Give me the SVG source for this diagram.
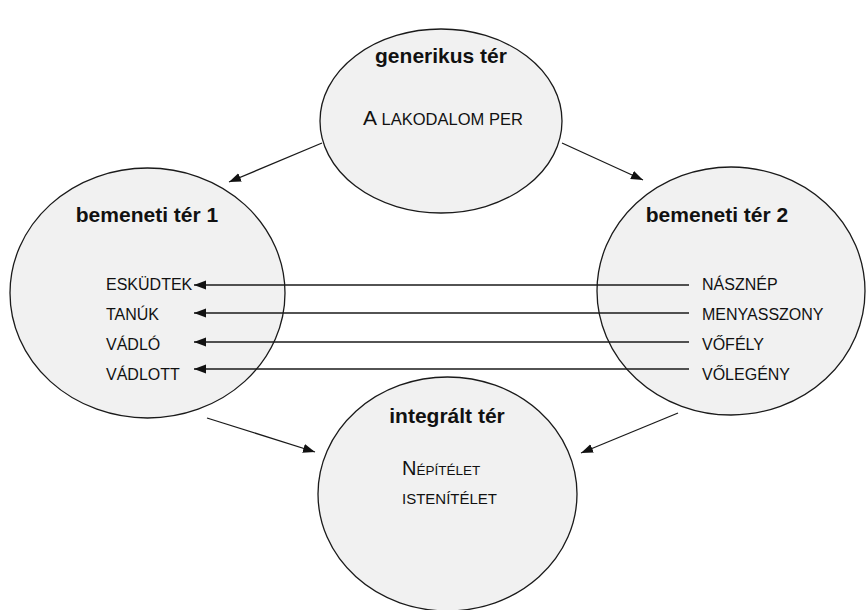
<svg xmlns="http://www.w3.org/2000/svg" width="866" height="610" viewBox="0 0 866 610">
<style>
.node{fill:#f1f1f1;stroke:#1a1a1a;stroke-width:1.3}
.title{font-family:"Liberation Sans",Arial,sans-serif;font-weight:bold;font-size:21px;fill:#111;text-anchor:middle}
.item{font-family:"Liberation Sans",Arial,sans-serif;font-size:16px;fill:#111}
.sc{font-family:"Liberation Sans",Arial,sans-serif;fill:#111}
.conn{stroke:#1a1a1a;stroke-width:1.3;fill:none;marker-end:url(#arr)}
</style>
<defs>
<marker id="arr" markerUnits="userSpaceOnUse" markerWidth="13" markerHeight="10" refX="12" refY="4.5" orient="auto">
<path d="M0,0 L12,4.5 L0,9 z" fill="#111"/>
</marker>
</defs>
<rect width="866" height="610" fill="#fff"/>
<g id="generikus">
<ellipse class="node" cx="441" cy="121" rx="121" ry="92"/>
<text class="title" x="441" y="63">generikus tér</text>
<text class="sc" x="363" y="125"><tspan font-size="21">A</tspan><tspan font-size="16.5"> LAKODALOM PER</tspan></text>
</g>
<g id="bemeneti1">
<ellipse class="node" cx="147.5" cy="293" rx="137.5" ry="125"/>
<text class="title" x="147" y="222" font-size="22">bemeneti tér 1</text>
<text class="item" x="106" y="290">ESKÜDTEK</text>
<text class="item" x="106" y="320">TANÚK</text>
<text class="item" x="106" y="350">VÁDLÓ</text>
<text class="item" x="106" y="380">VÁDLOTT</text>
</g>
<g id="bemeneti2">
<ellipse class="node" cx="731" cy="291" rx="134" ry="124"/>
<text class="title" x="717" y="222" font-size="22">bemeneti tér 2</text>
<text class="item" x="702" y="290">NÁSZNÉP</text>
<text class="item" x="702" y="320">MENYASSZONY</text>
<text class="item" x="702" y="350">VŐFÉLY</text>
<text class="item" x="702" y="380">VŐLEGÉNY</text>
</g>
<g id="integralt">
<ellipse class="node" cx="447.5" cy="494" rx="129.5" ry="117"/>
<text class="title" x="447" y="423">integrált tér</text>
<text class="sc" x="402" y="475"><tspan font-size="20">N</tspan><tspan font-size="13.5">ÉPÍTÉLET</tspan></text>
<text class="sc" x="402" y="504" font-size="15">ISTENÍTÉLET</text>
</g>
<g id="connectors">
<line class="conn" x1="322" y1="143" x2="229" y2="182"/>
<line class="conn" x1="562" y1="143" x2="643" y2="180"/>
<line class="conn" x1="207" y1="418" x2="315" y2="452"/>
<line class="conn" x1="678" y1="413" x2="581" y2="453"/>
<line class="conn" x1="689" y1="285" x2="194" y2="285"/>
<line class="conn" x1="689" y1="313" x2="194" y2="313"/>
<line class="conn" x1="689" y1="342" x2="194" y2="342"/>
<line class="conn" x1="689" y1="369" x2="194" y2="369"/>
</g>
</svg>
